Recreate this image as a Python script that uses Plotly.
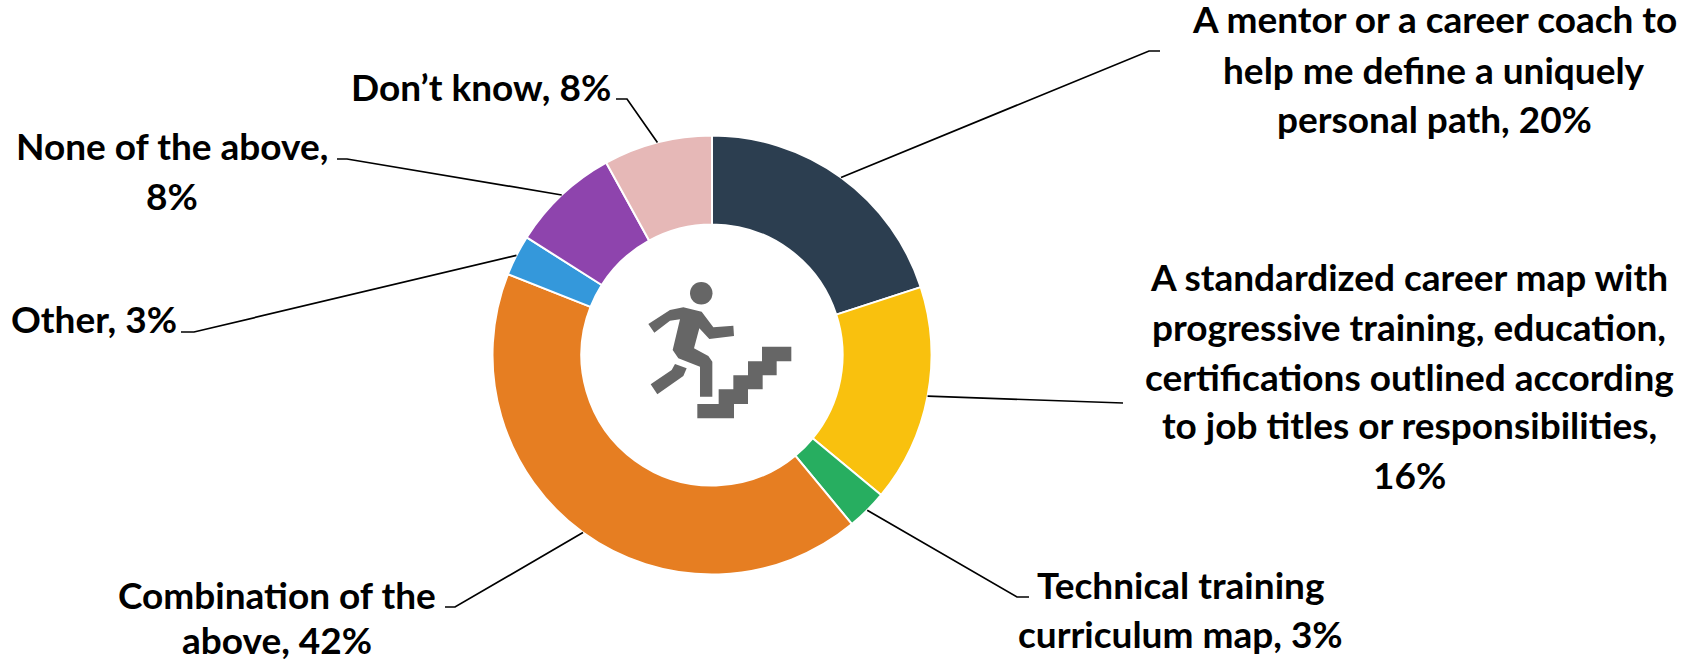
import math
import plotly.graph_objects as go

WIDTH, HEIGHT = 1697, 659
CX, CY, RADIUS = 712, 355, 219.5

categories = [
    "A mentor or a career coach to help me define a uniquely personal path",
    "A standardized career map with progressive training, education, certifications outlined according to job titles or responsibilities",
    "Technical training curriculum map",
    "Combination of the above",
    "Other",
    "None of the above",
    "Don\u2019t know",
]
values = [20, 16, 3, 42, 3, 8, 8]
colors = ["#2C3E50", "#F9C10E", "#27AE60", "#E67E22", "#3498DB", "#8E44AD", "#E6B8B7"]

# Words on each line of every wrapped label
words_per_line = [[7, 5, 3], [5, 3, 3, 5, 1], [2, 3], [3, 2], [2], [4, 1], [3]]
# Label block layout: centre x, y of each line
label_x = [1434, 1409, 1180, 277, 94, 172, 481]
label_y = [[19, 69, 118], [276, 326, 376, 425, 474], [584, 633], [594, 639], [318], [146, 195], [87]]
# Leader routing: elbow and end point beside the label
elbows = [(1149, 51, 1160), (1123, 403, 1123), (1017, 597, 1029), (455, 607, 445), (194, 332, 181), (347, 159, 337), (627, 99, 616)]


def px(x):
    return x / WIDTH


def py(y):
    return 1 - y / HEIGHT


def path(points, scale_x=620, scale_y=250):
    parts = [f"{px(scale_x + x / 3):.5f},{py(scale_y + y / 3):.5f}" for x, y in points]
    return "M" + " L".join(parts) + " Z"


fig = go.Figure(
    go.Pie(
        labels=categories,
        values=values,
        hole=0.595,
        sort=False,
        direction="clockwise",
        rotation=0,
        textinfo="none",
        showlegend=False,
        marker=dict(colors=colors, line=dict(color="white", width=2)),
        domain=dict(
            x=[px(CX - RADIUS), px(CX + RADIUS)],
            y=[py(CY + RADIUS), py(CY - RADIUS)],
        ),
    )
)

shapes = []
annotations = []
total = sum(values)
running = 0
for i, (name, value) in enumerate(zip(categories, values)):
    mid = (running + value / 2) / total * 2 * math.pi
    running += value
    sx, sy = CX + RADIUS * math.sin(mid), CY - RADIUS * math.cos(mid)
    ex, ey, tx = elbows[i]
    shapes.append(
        dict(
            type="path",
            xref="paper",
            yref="paper",
            path=f"M{px(sx):.5f},{py(sy):.5f} L{px(ex):.5f},{py(ey):.5f} L{px(tx):.5f},{py(ey):.5f}",
            line=dict(color="black", width=1.7),
            fillcolor="rgba(0,0,0,0)",
        )
    )
    words = f"{name}, {value}%".split(" ")
    start = 0
    for count, y in zip(words_per_line[i], label_y[i]):
        annotations.append(
            dict(
                text=" ".join(words[start:start + count]),
                x=px(label_x[i]),
                y=py(y),
                xref="paper",
                yref="paper",
                xanchor="center",
                yanchor="middle",
                showarrow=False,
                font=dict(family="Lato", size=37, color="black", weight="bold"),
            )
        )
        start += count

# Stair-climber pictogram in the hole of the ring
GREY = "#666666"
body = [(85, 222), (150, 180), (190, 172), (245, 185), (280, 232), (340, 227), (342, 258), (268, 267),
        (238, 235), (222, 295), (265, 318), (277, 335), (277, 440), (240, 440), (240, 350), (175, 325),
        (158, 300), (180, 208), (150, 212), (103, 248)]
leg = [(165, 342), (200, 355), (190, 378), (112, 433), (92, 403), (155, 360)]
stairs = [(232, 462), (296, 462), (296, 418), (340, 418), (340, 376), (384, 376), (384, 334), (426, 334),
          (426, 290), (514, 290), (514, 334), (470, 334), (470, 376), (428, 376), (428, 418), (384, 418),
          (384, 462), (342, 462), (342, 505), (232, 505)]
for poly in (body, leg, stairs):
    shapes.append(dict(type="path", xref="paper", yref="paper", path=path(poly), fillcolor=GREY, line=dict(width=0)))
shapes.append(
    dict(type="circle", xref="paper", yref="paper", x0=px(690), x1=px(712.5), y0=py(304.5), y1=py(282),
         fillcolor=GREY, line=dict(width=0))
)

fig.update_layout(
    width=WIDTH,
    height=HEIGHT,
    margin=dict(l=0, r=0, t=0, b=0),
    paper_bgcolor="white",
    plot_bgcolor="white",
    shapes=shapes,
    annotations=annotations,
)
fig.write_html("out.html", config=dict(displayModeBar=False))
